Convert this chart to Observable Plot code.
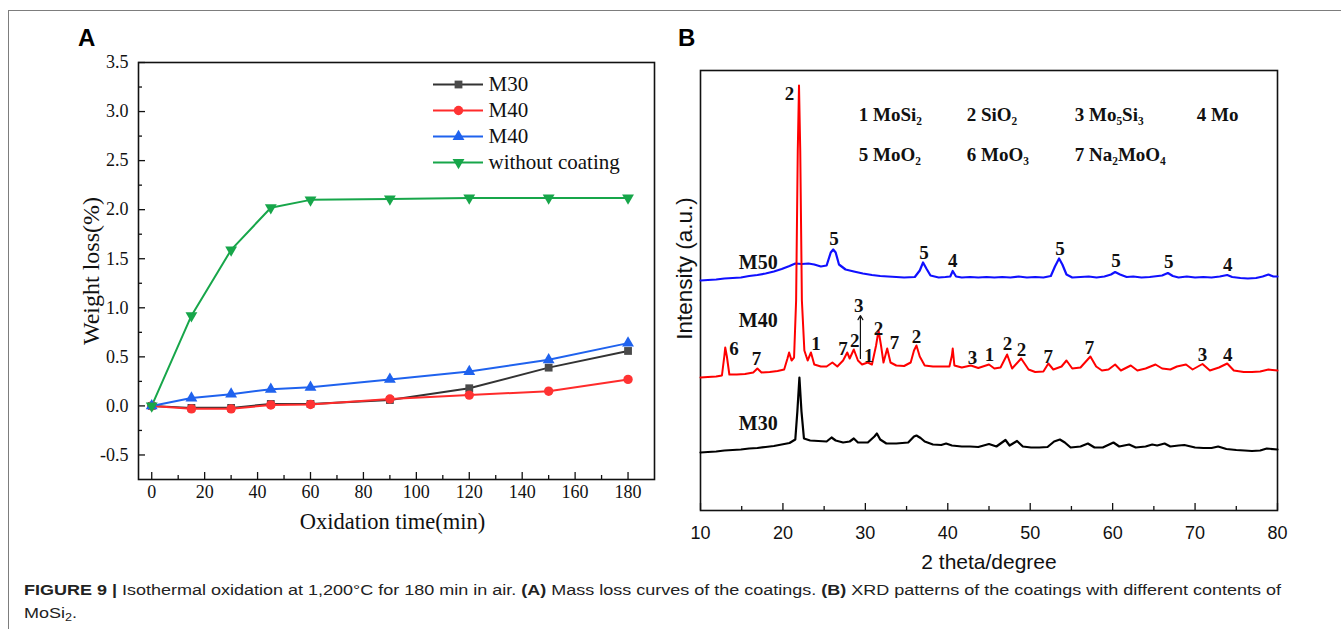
<!DOCTYPE html>
<html>
<head>
<meta charset="utf-8">
<script src="https://cdn.jsdelivr.net/npm/d3@7"></script>
<script src="https://cdn.jsdelivr.net/npm/@observablehq/plot@0.6"></script>
<style>
html,body{margin:0;padding:0;background:#fff;}
body{width:1341px;height:629px;overflow:hidden;position:relative;}
#border{position:absolute;left:8px;top:10px;width:1400px;height:700px;border:1px solid #7d7d7d;box-sizing:border-box;}
.panel{position:absolute;}
.tag{position:absolute;font:bold 24px "Liberation Sans",Arial,sans-serif;color:#000;line-height:1;}
#caption{position:absolute;left:24px;top:578px;font:15.5px/23px "Liberation Sans",Arial,sans-serif;color:#222;white-space:nowrap;transform-origin:0 0;}
#caption sub{font-size:70%;line-height:0;vertical-align:-3px;}
</style>
</head>
<body>
<div id="border"></div>
<div class="tag" style="left:78px;top:26px">A</div>
<div class="tag" style="left:678px;top:26px">B</div>
<div id="panelA" class="panel" style="left:0;top:0;width:670px"></div>
<div id="legendA" class="panel" style="left:425px;top:68px;width:260px"></div>
<div id="panelB" class="panel" style="left:660px;top:0;width:640px"></div>
<div id="caption"><span id="capLine1"><b>FIGURE 9 |</b> Isothermal oxidation at 1,200°C for 180 min in air. <b>(A)</b> Mass loss curves of the coatings. <b>(B)</b> XRD patterns of the coatings with different contents of</span><br>MoSi<sub>2</sub>.</div>
<script>
// ---------- Panel A data ----------
const timeMin = [0, 15, 30, 45, 60, 90, 120, 150, 180];
const lossM30 = [0, -0.02, -0.02, 0.02, 0.02, 0.06, 0.18, 0.39, 0.56];
const lossM40red = [0, -0.03, -0.03, 0.01, 0.015, 0.07, 0.11, 0.15, 0.27];
const lossM40blue = [0, 0.08, 0.12, 0.17, 0.19, 0.27, 0.35, 0.47, 0.64];
const lossBare = [0, 0.92, 1.59, 2.02, 2.10, 2.11, 2.12, 2.12, 2.12];
const seriesIds = ["M30", "M40r", "M40b", "bare"];
const seriesNames = ["M30", "M40", "M40", "without coating"];
const xTicksA = [0, 20, 40, 60, 80, 100, 120, 140, 160, 180];
const xMinorA = [10, 30, 50, 70, 90, 110, 130, 150, 170];
const yTicksA = [-0.5, 0, 0.5, 1, 1.5, 2, 2.5, 3, 3.5];
const yMinorA = [-0.25, 0.25, 0.75, 1.25, 1.75, 2.25, 2.75, 3.25];

// ---------- Panel B data (2θ in degrees, intensity in a.u.) ----------
const xrdM50 = [[10,231],[10.9,231.5],[11.9,232],[12.9,233],[13.9,233.5],[14.9,234],[15.9,235.5],[16.9,236.5],[17.9,238],[18.9,240],[19.85,242.5],[20.8,245.5],[21.5,248],[22.3,247.5],[23.1,248],[23.8,247],[24.6,245],[25.3,246],[25.8,259],[26.1,262],[26.4,259],[26.8,247],[27.6,242],[28.6,240],[29.7,238],[30.8,236.5],[31.8,235.5],[32.75,235],[33.75,234.5],[34.7,234],[36.0,234.5],[36.6,241],[37.0,249],[37.4,243],[37.9,236],[38.9,234],[39.7,234.5],[40.3,235],[40.6,240.5],[41.0,235],[41.7,234],[42.7,234.5],[43.7,234],[44.7,234.5],[45.65,234],[46.6,234.5],[47.6,234],[48.6,235],[49.6,234],[50.6,234.5],[51.6,234],[52.5,235.5],[53.0,245],[53.5,253],[53.9,247],[54.4,237],[55.1,234],[56.1,234.5],[57.1,235],[58.05,234],[59.0,235],[59.8,237],[60.3,239.5],[60.9,237],[61.7,234.5],[62.5,235],[63.5,234],[64.5,234.5],[66.0,236],[66.7,238.5],[67.3,235.5],[68.0,234],[69.0,235],[70.0,234],[71.0,234.5],[72.0,234],[73.0,235],[73.9,236.5],[74.5,234.5],[75.5,233.5],[76.4,233],[77.4,233.5],[78.2,235],[78.9,237],[79.5,235],[80,235]];
const xrdM40 = [[10,134],[10.9,134.5],[11.9,135],[12.6,136],[12.9,156],[13.0,164],[13.2,155],[13.5,137],[14.4,137],[15.4,137.5],[16.4,139],[16.9,143],[17.4,139],[18.4,139.5],[19.35,140.5],[20.15,142],[20.55,153],[20.75,159],[21.05,151],[21.35,154],[21.6,211],[21.8,361],[21.95,426],[22.1,361],[22.3,211],[22.6,161],[23.0,151],[23.4,159],[23.8,147],[24.6,145],[25.3,145],[26.0,149],[26.6,145],[27.3,151],[27.8,159],[28.1,153],[28.6,162],[29.1,151],[29.6,147],[30.3,149],[30.8,147],[31.3,166],[31.6,181],[31.9,166],[32.2,149],[32.65,163],[33.05,149],[33.75,146],[34.7,145.5],[35.5,149],[35.9,161],[36.2,166],[36.6,155],[37.2,146],[38.2,145],[39.2,145],[40.2,145],[40.5,156],[40.6,163],[40.8,146],[41.7,144],[42.8,146],[43.7,143.5],[45.0,147],[45.65,143],[46.4,144],[47.2,157],[47.8,143],[48.9,153],[49.8,142],[50.6,139.5],[51.6,140],[52.2,148],[52.8,142],[53.8,145],[54.4,151],[55.1,143],[56.1,144],[57.3,155],[58.0,145],[58.7,141],[59.5,142],[60.3,147],[61.0,141],[62.2,146],[63.0,141],[64.0,143],[65.2,147],[66.0,143],[67.0,142],[67.8,145],[68.9,147],[69.7,142],[70.9,147.5],[71.8,141],[72.9,144],[73.9,148],[74.7,141],[75.9,139.5],[76.9,139.5],[77.9,140],[78.9,142],[80,141]];
const xrdM30 = [[10,59],[10.9,59.5],[11.9,60],[12.9,61],[13.9,61.5],[14.9,62],[15.9,63],[16.9,63.5],[17.9,64.5],[18.9,65.5],[19.85,67],[20.8,68.5],[21.5,72],[21.75,100],[22.0,134],[22.25,100],[22.55,73],[23.3,71],[24.3,70.5],[25.3,70],[25.9,74],[26.4,71],[27.3,69],[28.1,70],[28.6,73],[29.1,69],[30.3,69],[31.1,75],[31.4,78],[31.8,72],[32.55,68],[33.75,68],[35.2,69],[35.9,75],[36.2,76],[36.7,73.5],[37.2,70],[38.2,67],[39.2,66.5],[39.8,68],[40.5,66],[41.7,65],[42.7,65],[43.7,64.5],[45.0,67.5],[45.9,65],[47.0,71.5],[47.5,66],[48.4,70.5],[49.1,65],[50.1,64],[51.1,64],[52.1,64.5],[52.9,70],[53.6,72],[54.2,69],[54.9,64],[56.1,65],[57.0,68],[57.8,64],[58.8,64],[60.1,69],[60.8,65],[62.0,67],[62.8,64],[64.0,65],[64.8,67],[65.4,66],[66.3,68],[67.0,65],[68.0,66],[68.7,66.5],[70.0,64],[71.0,63.5],[72.0,63.5],[72.8,65],[73.8,62.5],[75.0,61.5],[76.0,61],[76.9,60.5],[77.9,61],[78.7,63],[80,62]];
const peakLabels = [[26.2,273,"5"],[37.1,259,"5"],[40.6,251,"4"],[53.6,263,"5"],[60.4,251,"5"],[66.8,250,"5"],[73.95,247,"4"],
  [14.05,163,"6"],[16.8,153,"7"],[24.0,168,"1"],[27.3,163,"7"],[28.7,171,"2"],[29.2,206,"3"],[30.4,156,"1"],[31.6,183,"2"],[33.55,169,"7"],[36.2,175,"2"],[43.0,154,"3"],[45.05,157,"1"],[47.25,168,"2"],[48.95,162,"2"],[52.2,155,"7"],[57.2,164,"7"],[70.9,157,"3"],[73.95,157,"4"],[20.8,418,"2"]];
const arrowMark = [[29.4,153,29.4,196]];
const phaseKey = [[29.2,397,"1 MoSi₂"],[42.3,397,"2 SiO₂"],[55.4,397,"3 Mo₅Si₃"],[70.2,397,"4 Mo"],[29.2,357,"5 MoO₂"],[42.3,357,"6 MoO₃"],[55.4,357,"7 Na₂MoO₄"]];
const sampleLabels = [[14.65,249,"M50"],[14.65,191,"M40"],[14.65,88,"M30"]];
const xTicksB = [10, 20, 30, 40, 50, 60, 70, 80];
const xMinorB = [15, 25, 35, 45, 55, 65, 75];

// ---------- styles ----------
const serif = "'Liberation Serif','Times New Roman',serif";
const sans = "'Liberation Sans',Arial,sans-serif";
const lineColors = ["#333333", "#ff2b2b", "#1f62ee", "#17a64a"];
const markFills = ["#4a4a4a", "#ff3333", "#1f62ee", "#17a64a"];
const triangleDown = {
  draw(context, size) {
    const y = -Math.sqrt(size / (Math.sqrt(3) * 3));
    context.moveTo(0, -y * 2);
    context.lineTo(-Math.sqrt(3) * y, y);
    context.lineTo(Math.sqrt(3) * y, y);
    context.closePath();
  }
};
const symbols = ["square", "circle", "triangle", triangleDown];
const radii = [4.4, 4.7, 4.4, 4.4];

const lossSeries = [lossM30, lossM40red, lossM40blue, lossBare];
const rowsA = seriesIds.flatMap((id, i) => timeMin.map((t, j) => ({id, t, w: lossSeries[i][j]})));

// ---------- Panel A ----------
const plotA = Plot.plot({
  width: 670, height: 545,
  marginLeft: 138, marginRight: 16, marginTop: 62, marginBottom: 66,
  x: {domain: [-5, 190]},
  y: {domain: [-0.75, 3.5]},
  color: {domain: seriesIds, range: lineColors},
  style: {fontFamily: serif, color: "#111", background: "transparent", overflow: "visible"},
  marks: [
    Plot.axisX(xTicksA, {tickSize: -7, tickPadding: 13, fontSize: 18, fontFamily: serif, label: null, strokeWidth: 1.3}),
    Plot.axisX(xMinorA, {tickSize: -4, tickFormat: () => "", label: null, strokeWidth: 1.3}),
    Plot.axisY(yTicksA, {tickSize: -7, tickPadding: 17, fontSize: 18, fontFamily: serif, label: null, strokeWidth: 1.3, tickFormat: d => d.toFixed(1)}),
    Plot.axisY(yMinorA, {tickSize: -4, tickFormat: () => "", label: null, strokeWidth: 1.3}),
    Plot.frame({stroke: "#111", strokeWidth: 1.6}),
    Plot.line(rowsA, {x: "t", y: "w", z: "id", stroke: "id", strokeWidth: 2}),
    ...seriesIds.map((id, i) => Plot.dot(rowsA.filter(d => d.id === id), {x: "t", y: "w", symbol: symbols[i], r: radii[i], fill: markFills[i], stroke: "none"})),
    Plot.text(["Oxidation time(min)"], {text: d => d, frameAnchor: "bottom", textAnchor: "middle", lineAnchor: "middle", dy: 42, dx: -4, fontSize: 22.5, fontFamily: serif}),
    Plot.text(["Weight loss(%)"], {text: d => d, frameAnchor: "left", textAnchor: "middle", lineAnchor: "middle", rotate: -90, dx: -47, fontSize: 24, fontFamily: serif})
  ]
});
document.getElementById("panelA").append(plotA);

const legendA = Plot.plot({
  width: 260, height: 110, margin: 0,
  x: {domain: [0, 1], range: [8, 58], axis: null},
  y: {type: "point", domain: seriesIds, range: [15, 95], padding: 0, axis: null},
  color: {domain: seriesIds, range: lineColors},
  style: {fontFamily: serif, color: "#111", background: "transparent", overflow: "visible"},
  marks: [
    Plot.ruleY(seriesIds, {y: d => d, x1: 0, x2: 1, stroke: d => d, strokeWidth: 2}),
    ...seriesIds.map((id, i) => Plot.dot([id], {x: 0.5, y: d => d, symbol: symbols[i], r: radii[i], fill: markFills[i], stroke: "none"})),
    Plot.text(seriesIds, {x: 1, y: d => d, text: (d, i) => seriesNames[i], textAnchor: "start", dx: 5, fontSize: 21, fontFamily: serif})
  ]
});
document.getElementById("legendA").append(legendA);

// ---------- Panel B ----------
const toRows = arr => arr.map(([theta, a]) => ({theta, a}));
const plotB = Plot.plot({
  width: 640, height: 580,
  marginLeft: 40, marginRight: 23, marginTop: 70, marginBottom: 70,
  x: {domain: [10, 80]},
  y: {domain: [1, 441], axis: null},
  style: {fontFamily: sans, color: "#111", background: "transparent", overflow: "visible"},
  marks: [
    Plot.axisX(xTicksB, {tickSize: -7, tickPadding: 23, fontSize: 18, fontFamily: sans, label: null, strokeWidth: 1.3}),
    Plot.axisX(xMinorB, {tickSize: -4, tickFormat: () => "", label: null, strokeWidth: 1.3}),
    Plot.frame({stroke: "#111", strokeWidth: 1.6}),
    Plot.line(toRows(xrdM30), {x: "theta", y: "a", stroke: "#000000", strokeWidth: 2.2}),
    Plot.line(toRows(xrdM50), {x: "theta", y: "a", stroke: "#1010ff", strokeWidth: 2.2}),
    Plot.line(toRows(xrdM40), {x: "theta", y: "a", stroke: "#ff0000", strokeWidth: 2.0}),
    Plot.text(peakLabels, {x: d => d[0], y: d => d[1], text: d => d[2], fontSize: 19, fontWeight: "bold", fontFamily: serif, fill: "#111"}),
    Plot.arrow(arrowMark, {x1: d => d[0], y1: d => d[1], x2: d => d[2], y2: d => d[3], stroke: "#111", strokeWidth: 1.2, headLength: 6}),
    Plot.text(phaseKey, {x: d => d[0], y: d => d[1], text: d => d[2], textAnchor: "start", fontSize: 19, fontWeight: "bold", fontFamily: serif, fill: "#111"}),
    Plot.text(sampleLabels, {x: d => d[0], y: d => d[1], text: d => d[2], textAnchor: "start", fontSize: 20, fontWeight: "bold", fontFamily: serif, fill: "#111"}),
    Plot.text(["2 theta/degree"], {text: d => d, frameAnchor: "bottom", textAnchor: "middle", lineAnchor: "middle", dy: 52, fontSize: 21, fontFamily: sans}),
    Plot.text(["Intensity (a.u.)"], {text: d => d, frameAnchor: "left", textAnchor: "middle", lineAnchor: "middle", rotate: -90, dx: -16, dy: -22, fontSize: 22.5, fontFamily: sans})
  ]
});
document.getElementById("panelB").append(plotB);

// caption width fit
const cap = document.getElementById("caption");
const w = document.getElementById("capLine1").getBoundingClientRect().width;
cap.style.transform = `scaleX(${1257 / w})`;
</script>
</body>
</html>
